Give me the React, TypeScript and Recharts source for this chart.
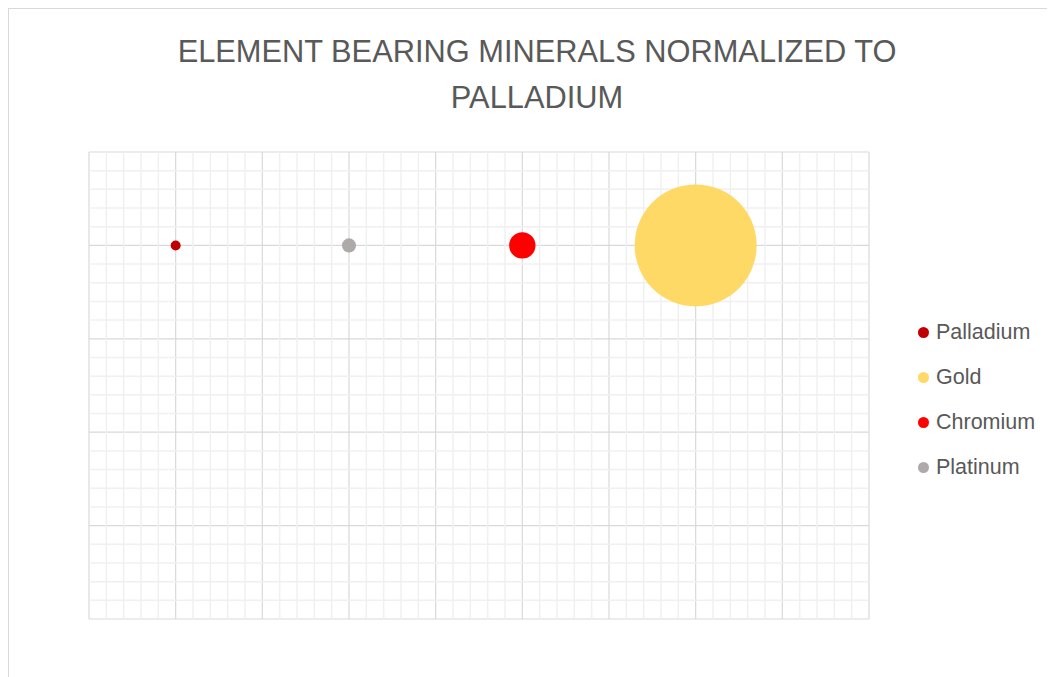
import {
  ScatterChart,
  Scatter,
  XAxis,
  YAxis,
  ZAxis,
  CartesianGrid,
  ReferenceLine,
  Legend,
} from "recharts";

/* ── Data ──────────────────────────────────────────────── */

const SERIES_NAMES = ["Palladium", "Gold", "Chromium", "Platinum"];
const SERIES_X = [1, 7, 5, 3];
const SERIES_Y = [4, 4, 4, 4];
const SERIES_SIZE = [1, 150, 7, 2];
const SERIES_COLORS = ["#C00000", "#FFD966", "#FF0000", "#AEAAAA"];

const X_TICKS = [0, 1, 2, 3, 4, 5, 6, 7, 8, 9];
const Y_TICKS = [0, 1, 2, 3, 4, 5];
// minor gridlines every 0.2 (major positions left out)
const X_MINOR = Array.from({ length: 46 }, (_, i) => i / 5).filter((_, i) => i % 5 !== 0);
const Y_MINOR = Array.from({ length: 26 }, (_, i) => i / 5).filter((_, i) => i % 5 !== 0);

const TITLE = ["ELEMENT BEARING MINERALS NORMALIZED TO", "PALLADIUM"];

const FONT = '"Liberation Sans", Arial, sans-serif';
const TEXT = "#595959";
const MINOR = "#f0f0f0";

/* ── Legend (kept in series order, not sorted) ─────────── */

function LegendList() {
  return (
    <div style={{ fontFamily: FONT, fontSize: 21.5, color: TEXT }}>
      {SERIES_NAMES.map((name, i) => (
        <div
          key={name}
          style={{ display: "flex", alignItems: "center", height: 45 }}
        >
          <span
            style={{
              width: 11,
              height: 11,
              borderRadius: "50%",
              background: SERIES_COLORS[i],
              marginRight: 7,
              display: "inline-block",
            }}
          />
          <span>{name}</span>
        </div>
      ))}
    </div>
  );
}

// invisible tick labels, but keeps ticks alive for the grid
const NoTick = () => <g />;

export default function App() {
  return (
    <div
      style={{
        position: "relative",
        width: 1047,
        height: 669,
        borderTop: "1px solid #d9d9d9",
        borderLeft: "1px solid #d9d9d9",
        boxSizing: "border-box",
        background: "#fff",
      }}
    >
      <div
        style={{
          position: "absolute",
          left: 0,
          top: 20,
          width: 1056,
          textAlign: "center",
          fontFamily: FONT,
          fontSize: 30.8,
          lineHeight: "46px",
          color: TEXT,
        }}
      >
        {TITLE.map((t) => (
          <div key={t}>{t}</div>
        ))}
      </div>
      <ScatterChart
        width={1046}
        height={668}
        margin={{ top: 143, right: 186, bottom: 58, left: 80 }}
      >
        {X_MINOR.map((v) => (
          <ReferenceLine key={"x" + v} x={v} stroke={MINOR} strokeWidth={1.5} />
        ))}
        {Y_MINOR.map((v) => (
          <ReferenceLine key={"y" + v} y={v} stroke={MINOR} strokeWidth={1.5} />
        ))}
        <CartesianGrid stroke="#d9d9d9" strokeWidth={1.2} />
        <XAxis
          type="number"
          dataKey="x"
          domain={[0, 9]}
          ticks={X_TICKS}
          interval={0}
          tick={NoTick}
          tickLine={false}
          axisLine={{ stroke: "#bfbfbf", strokeWidth: 1.5 }}
          height={0}
        />
        <YAxis
          type="number"
          dataKey="y"
          domain={[0, 5]}
          ticks={Y_TICKS}
          interval={0}
          tick={NoTick}
          tickLine={false}
          axisLine={{ stroke: "#bfbfbf", strokeWidth: 1.5 }}
          width={0}
        />
        <ZAxis type="number" dataKey="z" domain={[0, 150]} range={[0, 11690]} />
        {SERIES_NAMES.map((name, i) => (
          <Scatter
            key={name}
            name={name}
            data={[{ x: SERIES_X[i], y: SERIES_Y[i], z: SERIES_SIZE[i] }]}
            fill={SERIES_COLORS[i]}
            legendType="circle"
            isAnimationActive={false}
          />
        ))}
        <Legend
          layout="vertical"
          verticalAlign="middle"
          align="center"
          content={() => <LegendList />}
          wrapperStyle={{ left: 909, top: 301, width: 140 }}
        />
      </ScatterChart>
    </div>
  );
}
